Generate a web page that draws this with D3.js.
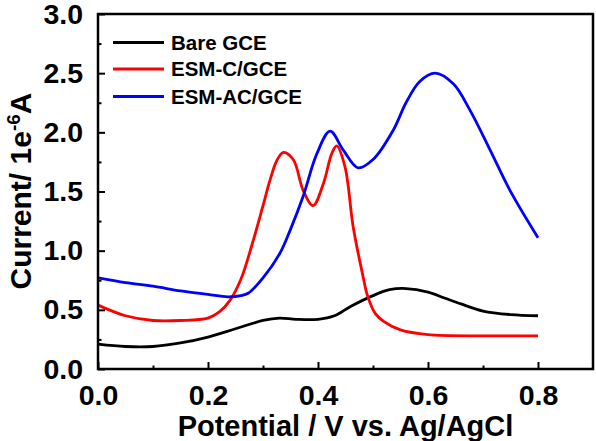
<!DOCTYPE html>
<html><head><meta charset="utf-8">
<script src="https://cdn.jsdelivr.net/npm/d3@7"></script>
<style>body{margin:0;background:#fff}svg{display:block}text{font-family:"Liberation Sans",Arial,sans-serif;font-weight:bold}</style>
</head><body><svg id="c" width="596" height="441"></svg>
<script>
const seriesNames = ["Bare GCE", "ESM-C/GCE", "ESM-AC/GCE"];
const seriesColors = ["#000000", "#ff0000", "#0000ff"];
const bareX = [0, 0.05, 0.1, 0.15, 0.2, 0.25, 0.3, 0.33, 0.36, 0.4, 0.43, 0.46, 0.5, 0.53, 0.56, 0.6, 0.63, 0.66, 0.7, 0.75, 0.8];
const bareY = [0.21, 0.19, 0.19, 0.22, 0.27, 0.34, 0.41, 0.43, 0.42, 0.42, 0.45, 0.53, 0.62, 0.67, 0.68, 0.65, 0.60, 0.55, 0.49, 0.46, 0.45];
const escX = [0, 0.05, 0.1, 0.15, 0.2, 0.22, 0.24, 0.26, 0.28, 0.30, 0.313, 0.325, 0.337, 0.355, 0.373, 0.391, 0.41, 0.425, 0.434, 0.449, 0.464, 0.482, 0.49, 0.504, 0.52, 0.55, 0.6, 0.7, 0.8];
const escY = [0.54, 0.45, 0.41, 0.41, 0.43, 0.48, 0.58, 0.76, 1.05, 1.38, 1.60, 1.76, 1.83, 1.77, 1.51, 1.38, 1.57, 1.82, 1.885, 1.71, 1.20, 0.78, 0.62, 0.47, 0.40, 0.33, 0.29, 0.28, 0.28];
const esacX = [0, 0.05, 0.1, 0.15, 0.2, 0.236, 0.26, 0.273, 0.3, 0.331, 0.35, 0.373, 0.398, 0.422, 0.446, 0.473, 0.50, 0.537, 0.56, 0.585, 0.613, 0.646, 0.676, 0.713, 0.749, 0.8];
const esacY = [0.77, 0.73, 0.70, 0.66, 0.63, 0.61, 0.62, 0.64, 0.77, 0.98, 1.18, 1.46, 1.82, 2.01, 1.85, 1.70, 1.77, 2.02, 2.25, 2.43, 2.50, 2.41, 2.19, 1.85, 1.51, 1.11];
const xTicks = [0, 0.2, 0.4, 0.6, 0.8];
const yTicks = [0, 0.5, 1.0, 1.5, 2.0, 2.5, 3.0];

const svg = d3.select("#c");
const L = 98, R = 593, T = 14, B = 369;
const x = d3.scaleLinear().domain([0, 0.9]).range([L, R]);
const y = d3.scaleLinear().domain([0, 3]).range([B, T]);

const series = [[bareX, bareY], [escX, escY], [esacX, esacY]];
const line = d3.line().x(d => x(d[0])).y(d => y(d[1])).curve(d3.curveCatmullRom.alpha(0.5));
series.forEach((s, i) => {
  const pts = s[0].map((v, j) => [v, s[1][j]]);
  svg.append("path").attr("d", line(pts)).attr("fill", "none")
    .attr("stroke", seriesColors[i]).attr("stroke-width", 2.8).attr("stroke-linejoin", "round");
});

// axes
const xAxis = d3.axisBottom(x).tickValues(xTicks).tickFormat(d3.format(".1f")).tickSizeInner(-7).tickSizeOuter(0).tickPadding(16);
const gx = svg.append("g").attr("transform", `translate(0,${B})`).call(xAxis);
const xMinor = d3.axisBottom(x).tickValues([0.1, 0.3, 0.5, 0.7]).tickFormat("").tickSizeInner(-3.5).tickSizeOuter(0);
const gxm = svg.append("g").attr("transform", `translate(0,${B})`).call(xMinor);
const yAxis = d3.axisLeft(y).tickValues(yTicks).tickFormat(d3.format(".1f")).tickSizeInner(-7).tickSizeOuter(0).tickPadding(15);
const gy = svg.append("g").attr("transform", `translate(${L},0)`).call(yAxis);
const yMinor = d3.axisLeft(y).tickValues([0.25, 0.75, 1.25, 1.75, 2.25, 2.75]).tickFormat("").tickSizeInner(-3.5).tickSizeOuter(0);
const gym = svg.append("g").attr("transform", `translate(${L},0)`).call(yMinor);
[gx, gxm, gy, gym].forEach(g => {
  g.select(".domain").remove();
  g.selectAll("line").attr("stroke", "#000").attr("stroke-width", 2);
  g.selectAll("text").attr("font-size", 28.5).attr("fill", "#000")
    .style("font-family", '"Liberation Sans",Arial,sans-serif').style("font-weight", "bold");
});
gx.selectAll("text").attr("dy", "0.71em");

svg.append("rect").attr("x", L).attr("y", T).attr("width", R - L).attr("height", B - T)
  .attr("fill", "none").attr("stroke", "#000").attr("stroke-width", 2.5);

// axis titles
svg.append("text").attr("x", (L + R) / 2).attr("y", 436).attr("text-anchor", "middle")
  .attr("font-size", 29).text("Potential / V vs. Ag/AgCl");
const yt = svg.append("text").attr("transform", "translate(31,191) rotate(-90)").attr("text-anchor", "middle").attr("font-size", 30);
yt.append("tspan").text("Current/ 1e");
yt.append("tspan").attr("font-size", 19).attr("dy", -11).text("-6");
yt.append("tspan").attr("dy", 11).text("A");

// legend
const ly = [42.5, 69, 96.5];
seriesNames.forEach((n, i) => {
  svg.append("line").attr("x1", 113).attr("x2", 164).attr("y1", ly[i]).attr("y2", ly[i])
    .attr("stroke", seriesColors[i]).attr("stroke-width", 2.8);
  svg.append("text").attr("x", 171).attr("y", ly[i] + 7).attr("font-size", 20.5).text(n);
});
</script></body></html>
